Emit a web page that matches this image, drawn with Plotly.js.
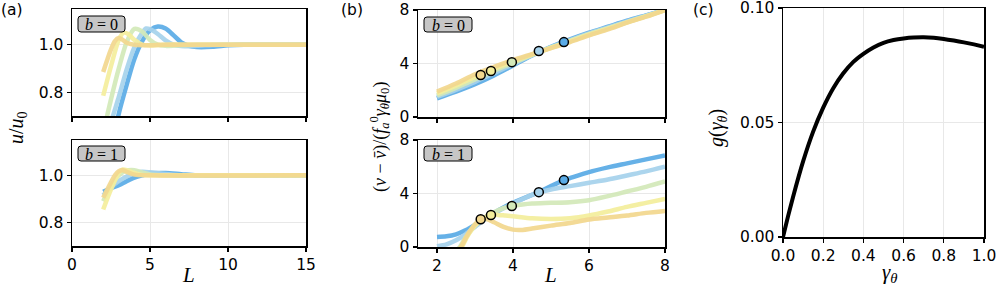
<!DOCTYPE html>
<html><head><meta charset="utf-8">
<script src="https://cdn.plot.ly/plotly-3.0.1.min.js"></script>
<style>html,body{margin:0;padding:0;background:#fff}</style>
</head><body><div id="chart" style="width:997px;height:288px"></div>
<script>
// ---------- data ----------
const seriesColors = ['#5aabe6', '#a6d2ec', '#d3e9b9', '#f4ee9c', '#f2d78e'];

// (a) b=0 : u/u0 vs L
const La0 = [
  [2, 2.5, 3, 3.5, 4, 4.5, 5, 5.5, 6, 6.5, 7, 7.5, 8, 9, 10, 11, 12, 13, 15],
  [2, 2.5, 3, 3.5, 4, 4.5, 4.75, 5, 5.5, 6, 6.5, 7, 8, 9, 10, 12, 15],
  [2, 2.25, 2.5, 3, 3.5, 4, 4.5, 5, 5.5, 6, 7, 8, 10, 15],
  [2, 2.5, 3, 3.3, 3.6, 4, 4.5, 5, 6, 8, 15],
  [2, 2.5, 2.75, 3, 3.25, 3.5, 4, 5, 6, 15]
];
const ua0 = [
  [0.35, 0.55, 0.71, 0.83, 0.94, 1.015, 1.06, 1.076, 1.068, 1.04, 1.01, 0.995, 0.99, 0.991, 0.997, 1.0, 1.0, 1.0, 1.0],
  [0.5, 0.67, 0.78, 0.895, 0.99, 1.05, 1.068, 1.065, 1.045, 1.018, 1.0, 0.994, 0.995, 0.999, 1.0, 1.0, 1.0],
  [0.62, 0.70, 0.77, 0.90, 1.01, 1.066, 1.055, 1.02, 1.0, 0.995, 0.998, 1.0, 1.0, 1.0],
  [0.785, 0.91, 1.02, 1.05, 1.045, 1.02, 1.0, 0.997, 1.0, 1.0, 1.0],
  [0.885, 0.98, 1.015, 1.028, 1.02, 1.008, 1.0, 0.998, 1.0, 1.0]
];
// (a) b=1
const La1 = [
  [2, 2.5, 3, 3.5, 4, 4.5, 5, 6, 7, 8, 10, 15],
  [2, 2.5, 3, 3.5, 4, 4.5, 5, 6, 7, 8, 10, 15],
  [2, 2.5, 3, 3.5, 4, 4.5, 5, 6, 8, 15],
  [2, 2.5, 3, 3.25, 3.5, 4, 4.5, 5, 6, 15],
  [2, 2.5, 2.75, 3, 3.25, 3.5, 4, 5, 15]
];
const ua1 = [
  [0.93, 0.945, 0.958, 0.975, 0.99, 1.0, 1.008, 1.01, 1.005, 1.0, 1.0, 1.0],
  [0.915, 0.95, 0.975, 0.995, 1.01, 1.015, 1.013, 1.006, 1.0, 1.0, 1.0, 1.0],
  [0.89, 0.955, 1.0, 1.02, 1.022, 1.012, 1.004, 1.0, 1.0, 1.0],
  [0.855, 0.94, 1.01, 1.025, 1.022, 1.01, 1.002, 1.0, 1.0, 1.0],
  [0.905, 0.97, 1.0, 1.018, 1.022, 1.015, 1.003, 1.0, 1.0]
];

// (b) b=0 : (v - vbar)/(...) vs L
const Lb0 = [2, 2.5, 3, 3.5, 4, 4.5, 5, 5.5, 6, 6.5, 7, 7.5, 8];
const vb0 = [
  [1.4, 1.9, 2.45, 3.1, 3.85, 4.6, 5.25, 5.8, 6.3, 6.75, 7.2, 7.6, 8.0],
  [1.5, 2.03, 2.62, 3.28, 3.95, 4.62, 5.22, 5.75, 6.25, 6.7, 7.15, 7.58, 8.0],
  [1.62, 2.18, 2.8, 3.45, 4.05, 4.64, 5.2, 5.7, 6.2, 6.65, 7.1, 7.55, 8.0],
  [1.76, 2.34, 3.0, 3.6, 4.15, 4.67, 5.17, 5.65, 6.15, 6.6, 7.07, 7.52, 8.0],
  [1.9, 2.5, 3.2, 3.75, 4.25, 4.7, 5.15, 5.6, 6.1, 6.55, 7.05, 7.5, 8.0]
];
const Lcirc = [3.15, 3.42, 3.97, 4.68, 5.34];
const vcirc0 = [3.14, 3.44, 4.1, 4.93, 5.6];
const circColors = ['#f2d78e', '#f4ee9c', '#d3e9b9', '#a6d2ec', '#5aabe6'];

// (b) b=1
const Lb1 = [
  [2, 2.25, 2.5, 2.75, 3, 3.25, 3.5, 3.75, 4, 4.5, 4.68, 5, 5.34, 5.5, 6, 6.5, 7, 7.5, 8],
  [2, 2.25, 2.5, 2.75, 3, 3.25, 3.5, 3.75, 4, 4.5, 4.7, 5, 5.5, 6, 6.5, 7, 7.5, 8],
  [2.5, 2.6, 2.75, 3, 3.25, 3.5, 3.75, 3.97, 4.25, 4.5, 5, 5.5, 6, 6.5, 7, 7.5, 8],
  [2.55, 2.65, 2.8, 3, 3.2, 3.42, 3.6, 3.8, 4, 4.5, 5, 5.5, 6, 6.5, 7, 7.5, 8],
  [2.55, 2.63, 2.8, 3.0, 3.15, 3.3, 3.5, 3.75, 4, 4.25, 4.5, 5, 5.5, 6, 6.5, 7, 7.5, 8]
];
const vb1 = [
  [0.75, 0.8, 0.95, 1.25, 1.65, 2.1, 2.55, 2.95, 3.3, 3.9, 4.1, 4.55, 5.0, 5.15, 5.6, 5.95, 6.25, 6.55, 6.85],
  [0.05, 0.2, 0.5, 0.95, 1.5, 2.05, 2.5, 2.9, 3.25, 3.9, 4.1, 4.3, 4.55, 4.8, 5.05, 5.35, 5.65, 6.0],
  [-0.3, 0, 0.7, 1.6, 2.2, 2.6, 2.9, 3.06, 3.18, 3.25, 3.3, 3.35, 3.5, 3.8, 4.15, 4.5, 4.9],
  [-0.3, 0, 0.8, 1.6, 2.1, 2.39, 2.4, 2.35, 2.3, 2.15, 2.1, 2.15, 2.35, 2.65, 3.0, 3.3, 3.6],
  [-0.3, 0, 0.9, 1.7, 2.05, 2.1, 1.85, 1.5, 1.3, 1.28, 1.38, 1.6, 1.8, 2.05, 2.2, 2.35, 2.55, 2.7]
];
const vcirc1 = [2.07, 2.39, 3.06, 4.1, 5.0];

// (c) g(gamma)
const gam = [0, 0.025, 0.05, 0.1, 0.15, 0.2, 0.25, 0.3, 0.35, 0.4, 0.45, 0.5, 0.55, 0.6, 0.65, 0.7, 0.75, 0.8, 0.85, 0.9, 0.95, 1.0];
const gval = [0, 0.009, 0.0175, 0.033, 0.046, 0.0565, 0.065, 0.0715, 0.0765, 0.08, 0.0828, 0.0848, 0.086, 0.0867, 0.0871, 0.0872, 0.087, 0.0865, 0.0858, 0.085, 0.0841, 0.0831];

// ---------- helpers ----------
const W = 997, H = 288;
const px = x => x / W, py = y => 1 - y / H;
const LW = 4.5;

const traces = [];
function addLines(Ls, Vs, xa, ya, sharedX) {
  for (let i = 0; i < 5; i++) {
    traces.push({
      x: sharedX ? Ls : Ls[i], y: Vs[i], xaxis: xa, yaxis: ya, type: 'scatter', mode: 'lines',
      line: {color: seriesColors[i], width: LW, shape: 'spline', smoothing: 0.8},
      opacity: 0.92, hoverinfo: 'skip', showlegend: false
    });
  }
}
function addCircles(xs, ys, xa, ya) {
  traces.push({
    x: xs, y: ys, xaxis: xa, yaxis: ya, type: 'scatter', mode: 'markers',
    marker: {color: circColors, size: 9, line: {color: 'black', width: 1.5}},
    hoverinfo: 'skip', showlegend: false, cliponaxis: false
  });
}

addLines(La0, ua0, 'x', 'y', false);
addLines(La1, ua1, 'x2', 'y2', false);
addLines(Lb0, vb0, 'x3', 'y3', true);
addCircles(Lcirc, vcirc0, 'x3', 'y3');
addLines(Lb1, vb1, 'x4', 'y4', false);
addCircles(Lcirc, vcirc1, 'x4', 'y4');
traces.push({x: gam, y: gval, xaxis: 'x5', yaxis: 'y5', type: 'scatter', mode: 'lines',
  line: {color: 'black', width: 4, shape: 'spline', smoothing: 0.6}, hoverinfo: 'skip', showlegend: false});

const tickFont = {family: 'DejaVu Sans, sans-serif', size: 15.5, color: 'black'};
const base = {showline: true, linecolor: 'black', linewidth: 1.5, mirror: true, ticks: 'outside',
  ticklen: 4, tickwidth: 1.2, tickcolor: 'black', showgrid: true, gridcolor: '#e8e8e8', gridwidth: 1,
  zeroline: false, tickfont: tickFont, fixedrange: true, ticklabeloverflow: 'allow'};
function ax(extra) { return Object.assign({}, base, extra); }

const domA = [px(72), px(306)], domB = [px(418), px(665)], domC = [px(783), px(984)];
const yTop = (t, b) => [py(b), py(t)];

const serif = 'Liberation Serif, DejaVu Serif, serif';
const annotations = [];
function note(text, x, y, size, fam, angle) {
  annotations.push({text, x: px(x), y: py(y), xref: 'paper', yref: 'paper', showarrow: false,
    xanchor: 'center', yanchor: 'middle', textangle: angle || 0,
    font: {family: fam, size, color: 'black'}});
}
note('(a)', 12, 10, 15.5, 'DejaVu Sans, sans-serif');
note('(b)', 352, 10, 15.5, 'DejaVu Sans, sans-serif');
note('(c)', 703, 10, 15.5, 'DejaVu Sans, sans-serif');
note('<i>u</i>/<i>u</i><sub>0</sub>', 17, 128, 20, serif, -90);
note('(<i>v</i> − <i>v̄</i>)/(<i>f</i><sub><i>a</i></sub><sup>0</sup><i>γ</i><sub><i>θ</i></sub><i>μ</i><sub>0</sub>)', 379, 137, 18, serif, -90);
note('<i>g</i>(<i>γ</i><sub><i>θ</i></sub>)', 717, 128, 20, serif, -90);
note('<i>L</i>', 188, 275, 21, serif);
note('<i>L</i>', 550, 275, 21, serif);
note('<i>γ</i><sub><i>θ</i></sub>', 890, 273, 21, serif);

const shapes = [];
function badge(label, x0, y0, x1, y1) {
  const r = 3;
  const X = v => px(v), Y = v => py(v);
  const path = `M ${X(x0 + r)} ${Y(y0)} L ${X(x1 - r)} ${Y(y0)} Q ${X(x1)} ${Y(y0)} ${X(x1)} ${Y(y0 + r)} ` +
    `L ${X(x1)} ${Y(y1 - r)} Q ${X(x1)} ${Y(y1)} ${X(x1 - r)} ${Y(y1)} L ${X(x0 + r)} ${Y(y1)} ` +
    `Q ${X(x0)} ${Y(y1)} ${X(x0)} ${Y(y1 - r)} L ${X(x0)} ${Y(y0 + r)} Q ${X(x0)} ${Y(y0)} ${X(x0 + r)} ${Y(y0)} Z`;
  shapes.push({type: 'path', path, xref: 'paper', yref: 'paper', fillcolor: '#c6c6c6',
    line: {color: 'black', width: 1}, layer: 'above'});
  note(label, (x0 + x1) / 2, (y0 + y1) / 2 + 0.5, 16, serif);
}
badge('<i>b</i> = 0', 78, 16, 125, 32);
badge('<i>b</i> = 1', 78, 146, 125, 161);
badge('<i>b</i> = 0', 424, 17, 472, 32);
badge('<i>b</i> = 1', 424, 146, 472, 161);

const layout = {
  width: W, height: H, margin: {l: 0, r: 0, t: 0, b: 0}, paper_bgcolor: 'white', plot_bgcolor: 'white',
  showlegend: false,
  xaxis: ax({domain: domA, anchor: 'y', range: [0, 15], tickvals: [0, 5, 10, 15], showticklabels: false}),
  yaxis: ax({domain: yTop(9, 116), anchor: 'x', range: [0.7, 1.15], tickvals: [0.8, 1.0], tickformat: '.1f'}),
  xaxis2: ax({domain: domA, anchor: 'y2', range: [0, 15], tickvals: [0, 5, 10, 15]}),
  yaxis2: ax({domain: yTop(140, 246), anchor: 'x2', range: [0.7, 1.15], tickvals: [0.8, 1.0], tickformat: '.1f'}),
  xaxis3: ax({domain: domB, anchor: 'y3', range: [1.5, 8], tickvals: [2, 4, 6, 8], showticklabels: false}),
  yaxis3: ax({domain: yTop(10, 117), anchor: 'x3', range: [0, 8], tickvals: [0, 4, 8]}),
  xaxis4: ax({domain: domB, anchor: 'y4', range: [1.5, 8], tickvals: [2, 4, 6, 8]}),
  yaxis4: ax({domain: yTop(140, 247), anchor: 'x4', range: [0, 8], tickvals: [0, 4, 8]}),
  xaxis5: ax({domain: domC, anchor: 'y5', range: [0, 1.00001], tickvals: [0, 0.2, 0.4, 0.6, 0.8, 1.0], tickformat: '.1f'}),
  yaxis5: ax({domain: yTop(8, 237), anchor: 'x5', range: [0, 0.100001], tickvals: [0, 0.05, 0.1], tickformat: '.2f'}),
  annotations, shapes
};

Plotly.newPlot('chart', traces, layout, {displayModeBar: false, staticPlot: true});
</script></body></html>
